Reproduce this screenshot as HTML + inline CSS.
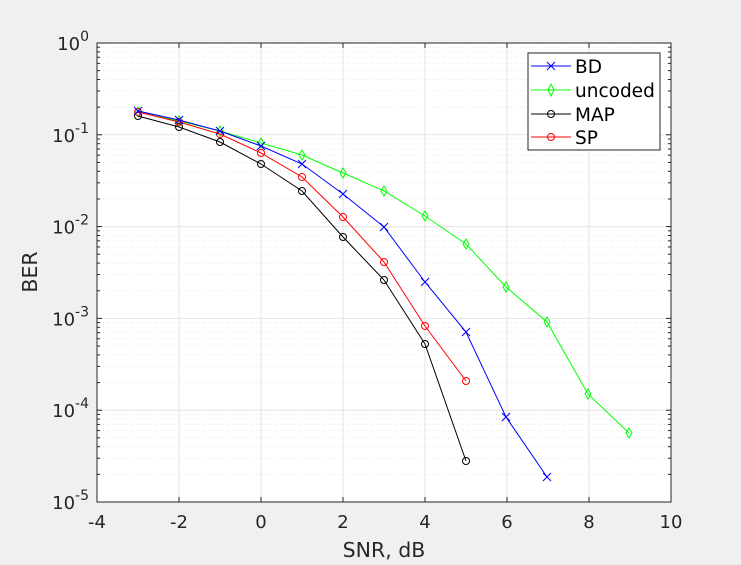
<!DOCTYPE html>
<html><head><meta charset="utf-8"><style>
body{margin:0;background:#f0f0f0;}
svg{display:block;font-family:"DejaVu Sans","Liberation Sans",sans-serif;}
</style></head><body>
<svg id="s" width="741" height="565" xmlns="http://www.w3.org/2000/svg">
<rect width="741" height="565" fill="#f0f0f0"/>
<rect x="97" y="43" width="574" height="459" fill="#fff"/>
<g id="grid"></g>
<rect x="97" y="43" width="574" height="459" fill="none" stroke="#262626" stroke-width="1"/>
<g id="ticks" font-size="18" fill="#262626"></g>
<text x="384" y="557" font-size="20.5" text-anchor="middle" fill="#262626">SNR, dB</text>
<text transform="translate(37,272) rotate(-90)" font-size="20.5" text-anchor="middle" fill="#262626">BER</text>
<g id="data"></g>
<g id="leg">
<rect x="528" y="53" width="132" height="97" fill="#fff" stroke="#262626"/>
<line x1="531" y1="66" x2="571" y2="66" stroke="#00f"/><path d="M547 62L555 70M555 62L547 70" stroke="#00f"/>
<line x1="531" y1="90" x2="571" y2="90" stroke="#0f0"/><path d="M551 84 L554 90 L551 96 L548 90Z" fill="none" stroke="#0f0"/>
<line x1="531" y1="114" x2="571" y2="114" stroke="#000"/><circle cx="551" cy="114" r="3.5" fill="none" stroke="#000"/>
<line x1="531" y1="137" x2="571" y2="137" stroke="#f00"/><circle cx="551" cy="137" r="3.5" fill="none" stroke="#f00"/>
<g font-size="18.5" fill="#000"><text x="575" y="73">BD</text><text x="575" y="97">uncoded</text><text x="575" y="121">MAP</text><text x="575" y="144">SP</text></g>
</g>
</svg>
<script>
var NS="http://www.w3.org/2000/svg";
function el(p,t,a,txt){var e=document.createElementNS(NS,t);for(var k in a)e.setAttribute(k,a[k]);if(txt!=null)e.textContent=txt;document.getElementById(p).appendChild(e);return e;}
var L=97,R=671,T=43,B=502,D=(B-T)/5;
function X(v){return L+(v+4)*(R-L)/14;}
for(var v=-4;v<=10;v+=2){var x=X(v);
 el("grid","line",{x1:x,x2:x,y1:T,y2:B,stroke:"#e3e3e3"});
 el("ticks","line",{x1:x,x2:x,y1:B,y2:B-5,stroke:"#262626"});
 el("ticks","line",{x1:x,x2:x,y1:T,y2:T+5,stroke:"#262626"});
 el("ticks","text",{x:x,y:B+26,"text-anchor":"middle"},String(v));}
for(var d=0;d<=5;d++){var y=T+d*D;
 el("grid","line",{x1:L,x2:R,y1:y,y2:y,stroke:"#e3e3e3"});
 el("ticks","line",{x1:L,x2:L+5,y1:y,y2:y,stroke:"#262626"});
 el("ticks","line",{x1:R,x2:R-5,y1:y,y2:y,stroke:"#262626"});
 var t=el("ticks","text",{x:L-8,y:y+7,"text-anchor":"end"});
 t.innerHTML='10<tspan dy="-9" font-size="14">'+(d==0?"0":"-"+d)+'</tspan>';
 if(d<5)for(var m=2;m<=9;m++){var ym=T+(d+1)*D-Math.log10(m)*D;
  el("grid","line",{x1:L,x2:R,y1:ym,y2:ym,stroke:"#e8e8e8","stroke-dasharray":"1,2"});
  el("ticks","line",{x1:L,x2:L+3,y1:ym,y2:ym,stroke:"#262626"});
  el("ticks","line",{x1:R,x2:R-3,y1:ym,y2:ym,stroke:"#262626"});}
}
var S=[
 ["#0f0","d",[[138,112],[179,121],[220,131],[261,143],[302,155],[343,173],[384,191],[425,216],[466,244],[506,287],[547,322],[588,394],[629,433]]],
 ["#000","o",[[138,116],[179,127],[220,142],[261,164],[302,191],[343,237],[384,280],[425,344],[466,461]]],
 ["#f00","o",[[138,112],[179,122],[220,134],[261,153],[302,177],[343,217],[384,262],[425,326],[466,381]]],
 ["#00f","x",[[138,111],[179,120],[220,131],[261,146],[302,164],[343,194],[384,227],[425,282],[466,332],[506,417],[547,477]]]
];
S.forEach(function(s){var c=s[0];
 el("data","polyline",{points:s[2].map(function(p){return p.join(",")}).join(" "),fill:"none",stroke:c});
 s[2].forEach(function(p){var x=p[0],y=p[1];
  if(s[1]=="o")el("data","circle",{cx:x,cy:y,r:3.5,fill:"none",stroke:c});
  else if(s[1]=="d")el("data","path",{d:"M"+x+" "+(y-5)+"L"+(x+3)+" "+y+"L"+x+" "+(y+5)+"L"+(x-3)+" "+y+"Z",fill:"none",stroke:c});
  else el("data","path",{d:"M"+(x-4)+" "+(y-4)+"L"+(x+4)+" "+(y+4)+"M"+(x+4)+" "+(y-4)+"L"+(x-4)+" "+(y+4),stroke:c});});
});
</script>
</body></html>
